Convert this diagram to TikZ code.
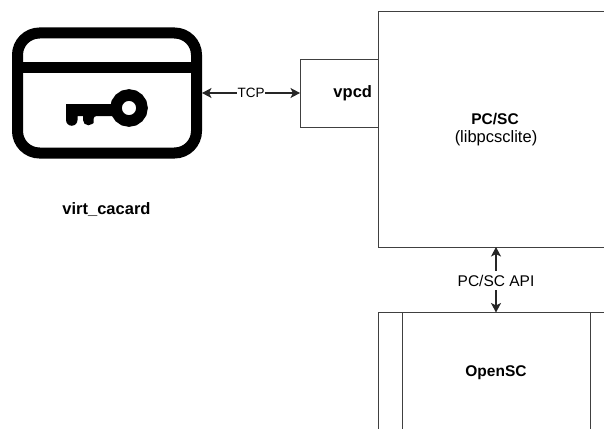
\documentclass[tikz,border=0pt]{standalone}
\usepackage{fontspec}
\setmainfont{Liberation Sans}
\usetikzlibrary{arrows.meta}
\tikzset{
  x=1pt,y=-1pt,
  boxline/.style={draw=black!75,line width=1pt},
  flow/.style={draw=black!85,line width=1.2pt,{Stealth[length=9.5pt,width=10pt,inset=2.5pt]}-{Stealth[length=9.5pt,width=10pt,inset=2.5pt]}},
  ink/.style={line width=11pt,draw=black},
  lab/.style={font=\fontsize{15.5}{18}\selectfont},
  blab/.style={font=\bfseries\fontsize{15.5}{18}\selectfont}
}
\begin{document}
\begin{tikzpicture}
\useasboundingbox (0,0) rectangle (604,428);
\clip (0,0) rectangle (604,428);
\fill[white] (0,0) rectangle (604,428);
% card icon
\node[ink,rounded corners=22pt,minimum width=179pt,minimum height=120pt,inner sep=0pt,outer sep=5.5pt] (card) at (107,93) {};
\draw[ink] (card.west |- 0,67) -- (card.east |- 0,67);
\fill (66,104) [rounded corners=3pt] -- (115,104) -- (115,116) -- (93.5,116) -- (93.5,120) [sharp corners] arc[start angle=0,end angle=-180,radius=5.25pt] -- (83,116) -- (77.5,116) -- (77.5,120) arc[start angle=0,end angle=-180,radius=5.75pt] -- (66,104) -- cycle;
\draw[line width=11.5pt] (129,108) circle[radius=13pt];
\node[blab,font=\bfseries\fontsize{16.5}{18}\selectfont] (cardlab) at (106.5,210) {virt\_cacard};
% boxes
\node[boxline,minimum width=78pt,minimum height=68pt,inner xsep=6pt,inner ysep=0pt,outer sep=0pt,text width=66pt,align=right,font=\bfseries\fontsize{16.5}{18}\selectfont] (vpcd) at (339,93) {vpcd};
\node[boxline,minimum width=236pt,minimum height=235pt,align=center,outer sep=0pt,fill=white] (pcsc) at (496,129.5) {};
\node[blab] (pcsclab) at (495,119) {PC/SC};
\node[lab,font=\fontsize{16.5}{18}\selectfont] (libn) at (496,138) {(libpcsclite)};
\node[boxline,minimum width=236pt,minimum height=120pt,outer sep=0pt] (opensc) at (496,372.5) {};
\draw[boxline] ([xshift=24.5pt]opensc.north west) -- ([xshift=24.5pt]opensc.south west);
\draw[boxline] ([xshift=-24pt]opensc.north east) -- ([xshift=-24pt]opensc.south east);
\node[blab] (openlab) at (496,373) {OpenSC};
% connectors
\draw[flow] (card) -- node[fill=white,inner sep=0.5pt,font=\fontsize{13.5}{16}\selectfont]{TCP} (vpcd);
\draw[flow] (pcsc.south) -- node[fill=white,inner xsep=0pt,inner ysep=4pt,lab,yshift=-1pt]{PC/SC API} (opensc.north);
\end{tikzpicture}
\end{document}
